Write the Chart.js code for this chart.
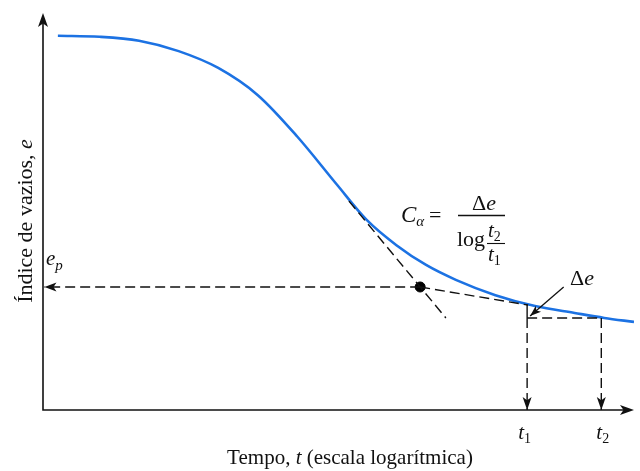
<!DOCTYPE html>
<html><head><meta charset="utf-8">
<script src="https://cdn.jsdelivr.net/npm/chart.js@4.4.1/dist/chart.umd.min.js"></script>
<style>html,body{margin:0;padding:0;background:#fff}canvas{display:block}</style>
</head><body>
<canvas id="c" width="640" height="471"></canvas>
<script>
// ---- data (x = log time, arbitrary units; y = void ratio e) ----
const curveLogT = [-1.849, -1.427, -1.025, -0.623, -0.221, 0.181, 0.583, 0.985, 1.286, 1.588, 1.889, 2.191, 2.593, 2.995, 3.397, 3.698, 4.000];
const curveE    = [1.256, 1.254, 1.246, 1.225, 1.191, 1.136, 1.052, 0.955, 0.884, 0.833, 0.793, 0.763, 0.732, 0.710, 0.696, 0.686, 0.678];
const tangentLogT = [1.106, 2.090];
const tangentE    = [0.922, 0.686];
const pointLogT = [1.829];
const pointE    = [0.7485];
const secondaryLogT = [1.829, 2.925];
const secondaryE    = [0.7485, 0.712];
const epLogT = [1.829, -1.985];
const epE    = [0.7485, 0.7485];
const t1 = 2.915, t2 = 3.668;
const e1 = 0.712, e2 = 0.686, eAxis = 0.5;
const pointerLogT = [3.286, 2.945];
const pointerE    = [0.7485, 0.690];
const xRange = [-2, 4];
const yRange = [0.5, 1.3];

const SERIF = "'Liberation Serif', 'Times New Roman', 'DejaVu Serif', serif";
const zip = (xs, ys) => xs.map((x, i) => ({x, y: ys[i]}));
const DASH = [10, 5];
const dashed = (data, extra) => Object.assign({
  data, showLine: true, pointRadius: 0, borderColor: '#111', borderWidth: 1.4,
  borderDash: DASH, fill: false, tension: 0
}, extra || {});

const arrowPlugin = {
  id: 'arrows',
  afterDatasetsDraw(chart) {
    const ctx = chart.ctx;
    chart.data.datasets.forEach((ds, i) => {
      if (!ds.arrowEnd) return;
      const pts = chart.getDatasetMeta(i).data;
      const a = pts[pts.length - 2], b = pts[pts.length - 1];
      head(ctx, a.x, a.y, b.x, b.y, ds.arrowLen || 12, ds.arrowHalf || 4.2);
    });
  }
};
function head(ctx, x0, y0, x1, y1, len, half) {
  const ang = Math.atan2(y1 - y0, x1 - x0);
  ctx.save();
  ctx.translate(x1, y1); ctx.rotate(ang);
  ctx.beginPath();
  ctx.moveTo(0, 0); ctx.lineTo(-len, -half); ctx.lineTo(-len * 0.75, 0); ctx.lineTo(-len, half);
  ctx.closePath();
  ctx.fillStyle = '#111'; ctx.fill();
  ctx.restore();
}
function runs(ctx, x, y, parts, align) {
  let w = 0;
  parts.forEach(p => { ctx.font = p[1]; w += ctx.measureText(p[0]).width; });
  if (align === 'center') x -= w / 2;
  parts.forEach(p => {
    ctx.font = p[1];
    ctx.fillText(p[0], x, y + (p[2] || 0));
    x += ctx.measureText(p[0]).width;
  });
}
const decorPlugin = {
  id: 'decor',
  afterDraw(chart) {
    const ctx = chart.ctx, ca = chart.chartArea;
    const xs = chart.scales.x, ys = chart.scales.y;
    ctx.save();
    // axes
    ctx.strokeStyle = '#111'; ctx.lineWidth = 1.6;
    ctx.beginPath();
    ctx.moveTo(ca.left, ca.top + 8); ctx.lineTo(ca.left, ca.bottom); ctx.lineTo(ca.right - 8, ca.bottom);
    ctx.stroke();
    head(ctx, ca.left, ca.bottom, ca.left, ca.top - 1, 14, 5);
    head(ctx, ca.left, ca.bottom, ca.right, ca.bottom, 14, 5);
    ctx.fillStyle = '#111';
    ctx.textBaseline = 'alphabetic';
    ctx.textAlign = 'left';
    const it = s => `italic ${s}px ${SERIF}`, up = s => `${s}px ${SERIF}`;
    // x title
    runs(ctx, 350, 464, [['Tempo, ', up(21)], ['t', it(21)], [' (escala logarítmica)', up(21)]], 'center');
    // y title
    ctx.save();
    ctx.translate(32, 221); ctx.rotate(-Math.PI / 2);
    runs(ctx, 0, 0, [['Índice de vazios, ', up(22)], ['e', it(22)]], 'center');
    ctx.restore();
    // e_p
    const yp = ys.getPixelForValue(epE[0]);
    runs(ctx, ca.left + 3, yp - 22, [['e', it(21)], ['p', it(15), 5]]);
    // t1, t2
    const x1 = xs.getPixelForValue(t1), x2 = xs.getPixelForValue(t2);
    runs(ctx, x1 - 9, ca.bottom + 29, [['t', it(21)], ['1', up(14), 4]]);
    runs(ctx, x2 - 5, ca.bottom + 29, [['t', it(21)], ['2', up(14), 4]]);
    // Δe pointer label
    runs(ctx, 570, 285, [['Δ', up(22)], ['e', it(22)]]);
    // formula
    runs(ctx, 401, 222, [['C', it(23)], ['α', it(15), 4]]);
    runs(ctx, 429, 222, [['=', up(22)]]);
    runs(ctx, 484, 210, [['Δ', up(22)], ['e', it(22)]], 'center');
    ctx.lineWidth = 1.3;
    ctx.beginPath(); ctx.moveTo(458, 215.5); ctx.lineTo(505, 215.5); ctx.stroke();
    runs(ctx, 457, 246, [['log', up(22)]]);
    runs(ctx, 488, 237, [['t', it(21)], ['2', up(14), 4]]);
    ctx.lineWidth = 1.1;
    ctx.beginPath(); ctx.moveTo(487, 243.5); ctx.lineTo(505, 243.5); ctx.stroke();
    runs(ctx, 488, 261, [['t', it(21)], ['1', up(14), 4]]);
    ctx.restore();
  }
};

new Chart(document.getElementById('c'), {
  type: 'scatter',
  data: {
    datasets: [
      dashed(zip(tangentLogT, tangentE)),
      dashed(zip(secondaryLogT, secondaryE)),
      dashed(zip(epLogT, epE), {arrowEnd: true, arrowLen: 12, arrowHalf: 4.5}),
      dashed(zip([t1, t1], [e2, eAxis]), {arrowEnd: true, arrowLen: 13, arrowHalf: 4.5}),
      dashed(zip([t1, t2], [e2, e2])),
      dashed(zip([t2, t2], [e2, eAxis]), {arrowEnd: true, arrowLen: 13, arrowHalf: 4.5}),
      dashed(zip([t1, t1], [e1, e2]), {borderDash: []}),
      dashed(zip(pointerLogT, pointerE), {borderDash: [], borderWidth: 1.3, arrowEnd: true, arrowLen: 11, arrowHalf: 4}),
      { data: zip(curveLogT, curveE), showLine: true, pointRadius: 0, borderColor: '#1c72e3',
        borderWidth: 2.6, cubicInterpolationMode: 'monotone', fill: false },
      { data: zip(pointLogT, pointE), pointRadius: 5, pointBackgroundColor: '#000', pointBorderColor: '#000', showLine: false }
    ]
  },
  options: {
    responsive: false,
    animation: false,
    layout: { padding: { left: 43, top: 14, right: 0, bottom: 61 } },
    plugins: { legend: { display: false }, tooltip: { enabled: false } },
    scales: {
      x: { type: 'linear', display: false, min: xRange[0], max: xRange[1] },
      y: { type: 'linear', display: false, min: yRange[0], max: yRange[1] }
    }
  },
  plugins: [arrowPlugin, decorPlugin]
});
</script>
</body></html>
